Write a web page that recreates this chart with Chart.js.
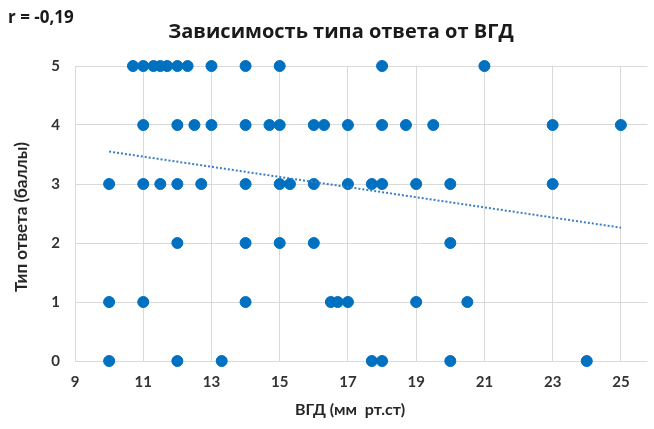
<!DOCTYPE html>
<html>
<head>
<meta charset="utf-8">
<script src="https://cdn.jsdelivr.net/npm/chart.js@4/dist/chart.umd.min.js"></script>
<style>
  html, body { margin: 0; padding: 0; background: #fff; }
  #wrap { width: 654px; height: 429px; }
</style>
</head>
<body>
<div id="wrap"><canvas id="c" width="654" height="429"></canvas></div>
<script>
// Intraocular pressure (mm Hg) and response type score for each patient
const iop = [
  10.7, 11, 11.3, 11.5, 11.7, 12, 12.3, 13, 14, 15, 18, 21,
  11, 12, 12.5, 13, 14, 14.7, 15, 16, 16.3, 17, 18, 18.7, 19.5, 23, 25,
  10, 11, 11.5, 12, 12.7, 14, 15, 15.3, 16, 17, 17.7, 18, 19, 20, 23,
  12, 14, 15, 16, 20,
  10, 11, 14, 16.5, 16.7, 17, 19, 20.5,
  10, 12, 13.3, 17.7, 18, 20, 24
];
const score = [
  5, 5, 5, 5, 5, 5, 5, 5, 5, 5, 5, 5,
  4, 4, 4, 4, 4, 4, 4, 4, 4, 4, 4, 4, 4, 4, 4,
  3, 3, 3, 3, 3, 3, 3, 3, 3, 3, 3, 3, 3, 3, 3,
  2, 2, 2, 2, 2,
  1, 1, 1, 1, 1, 1, 1, 1,
  0, 0, 0, 0, 0, 0, 0
];
// Linear trend line end points
const trendX = [10, 25];
const trendY = [3.55, 2.26];
const xTicks = [9, 11, 13, 15, 17, 19, 21, 23, 25];
const yTicks = [0, 1, 2, 3, 4, 5];

const chartTitle = 'Зависимость типа ответа от ВГД';
const corrLabel = 'r = -0,19';
const xTitle = 'ВГД (мм  рт.ст)';
const yTitle = 'Тип ответа (баллы)';

const points = iop.map((v, i) => ({ x: v, y: score[i] }));
const trend = trendX.map((v, i) => ({ x: v, y: trendY[i] }));

const FONT = 'Lato, "Open Sans", sans-serif';
const WIDE = '"Open Sans", Lato, sans-serif';

const textPlugin = {
  id: 'texts',
  afterDraw(chart) {
    const ctx = chart.ctx;
    ctx.save();
    ctx.fillStyle = '#1a1a1a';
    ctx.textBaseline = 'middle';
    ctx.font = 'bold 17px ' + WIDE;
    ctx.textAlign = 'left';
    ctx.fillText(corrLabel, 8, 18);
    ctx.font = 'bold 20px ' + WIDE;
    ctx.textAlign = 'center';
    ctx.fillText(chartTitle, 341, 32);
    ctx.font = 'bold 16px ' + FONT;
    ctx.fillStyle = '#262626';
    ctx.fillText(xTitle, 350, 410);
    ctx.font = 'bold 17px ' + FONT;
    ctx.translate(22, 217);
    ctx.rotate(-Math.PI / 2);
    ctx.fillText(yTitle, 0, 0);
    ctx.restore();
  }
};

new Chart(document.getElementById('c'), {
  type: 'scatter',
  data: {
    datasets: [
      {
        data: points,
        backgroundColor: '#0070c0',
        borderColor: '#0070c0',
        pointRadius: 5.5,
        pointHoverRadius: 5.5,
        clip: false,
        order: 2
      },
      {
        type: 'line',
        data: trend,
        borderColor: '#3b7ec6',
        borderWidth: 2,
        borderDash: [2, 2],
        pointRadius: 0,
        fill: false,
        clip: false,
        order: 1
      }
    ]
  },
  options: {
    responsive: false,
    devicePixelRatio: 1,
    animation: false,
    layout: { padding: { top: 66, right: 0, bottom: 0, left: 0 } },
    plugins: { legend: { display: false }, tooltip: { enabled: false }, title: { display: false } },
    scales: {
      x: {
        type: 'linear',
        min: 9,
        max: 25.78,
        afterBuildTicks: s => { s.ticks = xTicks.map(v => ({ value: v })); },
        afterFit: s => { s.height = 68; },
        grid: { color: '#d9d9d9', lineWidth: 1, drawTicks: false },
        border: { display: false },
        ticks: { padding: 12, color: '#333', font: { family: FONT, size: 15, weight: 'bold' } }
      },
      y: {
        min: 0,
        max: 5,
        afterBuildTicks: s => { s.ticks = yTicks.map(v => ({ value: v })); },
        afterFit: s => { s.width = 75; },
        grid: { color: '#d9d9d9', lineWidth: 1, drawTicks: false },
        border: { display: false },
        ticks: { padding: 15, color: '#333', font: { family: FONT, size: 15, weight: 'bold' } }
      }
    }
  },
  plugins: [textPlugin]
});
</script>
</body>
</html>
